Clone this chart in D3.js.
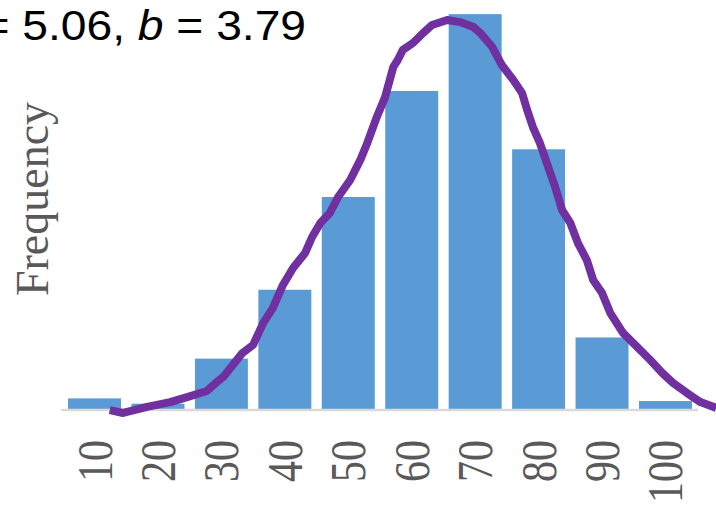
<!DOCTYPE html>
<html>
<head>
<meta charset="utf-8">
<script src="https://cdn.jsdelivr.net/npm/d3@7"></script>
<style>
  body { margin: 0; background: #fff; }
  svg { display: block; }
</style>
</head>
<body>
<script>
var w = 716;
var h = 509;

// score bins and counts
var bins = ["10", "20", "30", "40", "50", "60", "70", "80", "90", "100"];
var counts = [4, 2, 19, 45, 80, 120, 149, 98, 27, 3];

// fitted curve (score, frequency)
var curveX = [12.4, 14.5, 18.3, 21.9, 24.6, 27.7, 29.3, 30.3, 33.3, 35.0, 36.6, 38.1, 39.7, 41.3,
  43.2, 44.3, 45.6, 47.1, 48.4, 50.3, 51.9, 53.0, 54.5, 55.8, 57.1, 57.8, 58.6, 60.2, 61.8,
  63.2, 65.6, 67.6, 69.7, 70.8, 72.7, 74.2, 76.0, 77.4, 78.2, 79.1, 80.2, 81.3, 82.6, 83.7,
  85.0, 86.2, 87.6, 88.6, 90.0, 91.3, 93.3, 96.0, 97.6, 99.5, 101.2, 103.4, 105.5, 108.0];
var curveY = [-0.4, -1.5, 0.8, 2.6, 4.5, 6.8, 10.2, 12.1, 21.1, 24.2, 32.5, 38.1, 46.8, 53.2,
  58.9, 64.9, 70.2, 74.0, 80.0, 86.4, 94.0, 100.4, 110.2, 117.7, 129.1, 131.7, 135.5, 138.1, 141.9,
  144.9, 146.8, 146.0, 144.2, 141.9, 136.6, 129.8, 124.2, 119.2, 112.8, 106.4, 100.4, 92.8, 83.8, 75.1,
  70.2, 62.6, 56.2, 48.7, 43.8, 36.2, 28.7, 22.3, 18.5, 13.6, 9.8, 6.0, 2.6, 0.4];

var titleText = ["a", " = 5.06, ", "b", " = 3.79"];

var svg = d3.select("body")
    .append("svg")
    .attr("width", w)
    .attr("height", h);

var baseY = 409;

var x = d3.scaleBand()
    .domain(bins)
    .range([62.8, 697.2])
    .paddingInner(0.165)
    .paddingOuter(0.0825);

var y = d3.scaleLinear()
    .domain([0, 150])
    .range([baseY, 11.5]);

var xs = d3.scaleLinear()
    .domain([10, 100])
    .range([x("10") + x.bandwidth() / 2, x("100") + x.bandwidth() / 2]);

// bars
svg.selectAll("rect.bar")
    .data(counts)
    .enter()
    .append("rect")
    .attr("class", "bar")
    .attr("x", function(d, i) { return x(bins[i]); })
    .attr("y", function(d) { return y(d); })
    .attr("width", x.bandwidth())
    .attr("height", function(d) { return baseY - y(d); })
    .attr("fill", "#5B9BD5");

// baseline
svg.append("line")
    .attr("x1", 61)
    .attr("x2", 698)
    .attr("y1", baseY + 1)
    .attr("y2", baseY + 1)
    .attr("stroke", "#D9D9D9")
    .attr("stroke-width", 2.5);

// x tick labels, rotated
svg.selectAll("text.tick")
    .data(bins)
    .enter()
    .append("text")
    .attr("class", "tick")
    .attr("transform", function(d) {
        return "translate(" + (x(d) + x.bandwidth() / 2 + 17) + ",440) scale(1.22,1) rotate(-90)";
    })
    .attr("text-anchor", "end")
    .attr("font-family", "'Liberation Serif', serif")
    .attr("font-size", 42)
    .attr("fill", "#595959")
    .text(function(d) { return d; });

// y label
svg.append("text")
    .attr("transform", "translate(48,199) rotate(-90)")
    .attr("text-anchor", "middle")
    .attr("font-family", "'Liberation Serif', serif")
    .attr("font-size", 46)
    .attr("fill", "#595959")
    .text("Frequency");

// fitted curve
var line = d3.line()
    .x(function(d) { return xs(d[0]); })
    .y(function(d) { return y(d[1]); });

svg.append("path")
    .datum(curveX.map(function(v, i) { return [v, curveY[i]]; }))
    .attr("d", line)
    .attr("fill", "none")
    .attr("stroke", "#7030A0")
    .attr("stroke-width", 8)
    .attr("stroke-linejoin", "round");

// parameter label, clipped at the left edge
var title = svg.append("text")
    .attr("transform", "translate(306,40) scale(1.1,1)")
    .attr("text-anchor", "end")
    .attr("font-family", "'Liberation Sans', Arial, sans-serif")
    .attr("font-size", 42)
    .attr("fill", "#000");

title.selectAll("tspan")
    .data(titleText)
    .enter()
    .append("tspan")
    .attr("font-style", function(d, i) { return i % 2 === 0 ? "italic" : "normal"; })
    .text(function(d) { return d; });
</script>
</body>
</html>
